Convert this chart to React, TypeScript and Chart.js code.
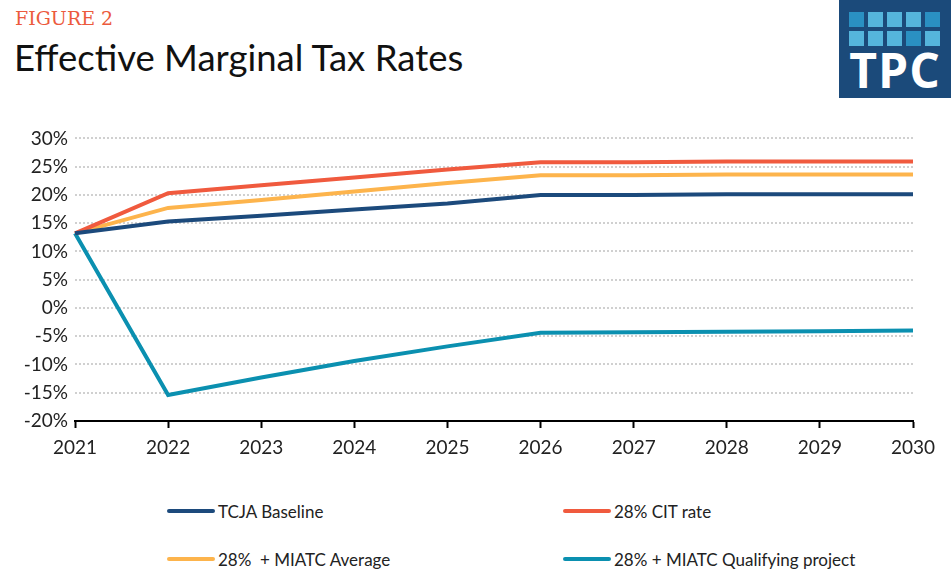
import React, { useEffect, useRef } from "react";
import { Chart, registerables } from "chart.js";

Chart.register(...registerables);

const years = ["2021", "2022", "2023", "2024", "2025", "2026", "2027", "2028", "2029", "2030"];
const tcjaBaseline = [13.2, 15.3, 16.3, 17.4, 18.5, 20.0, 20.0, 20.1, 20.1, 20.1];
const cit28 = [13.2, 20.3, 21.7, 23.1, 24.5, 25.8, 25.8, 25.9, 25.9, 25.9];
const miatcAverage = [13.2, 17.7, 19.1, 20.6, 22.1, 23.5, 23.5, 23.6, 23.6, 23.6];
const miatcQualifying = [13.2, -15.4, -12.3, -9.4, -6.8, -4.4, -4.3, -4.2, -4.1, -4.0];
const seriesNames = ["TCJA Baseline", "28% CIT rate", "28%  + MIATC Average", "28% + MIATC Qualifying project"];
const seriesColors = ["#1c4a7c", "#f05a3e", "#fdb44c", "#0b90b0"];

const FONT = "Lato, 'Noto Sans', sans-serif";

export default function App() {
  const canvasRef = useRef<HTMLCanvasElement | null>(null);

  useEffect(() => {
    document.body.style.margin = "0";
    const ctx = canvasRef.current;
    if (!ctx) return;
    const data = [tcjaBaseline, cit28, miatcAverage, miatcQualifying];
    const chart = new Chart(ctx, {
      type: "line",
      data: {
        labels: years,
        datasets: data.map((d, i) => ({
          label: seriesNames[i],
          data: d,
          borderColor: seriesColors[i],
          backgroundColor: seriesColors[i],
          borderWidth: 4,
          pointRadius: 0,
          tension: 0,
          fill: false,
        })),
      },
      options: {
        animation: false,
        responsive: false,
        maintainAspectRatio: false,
        layout: { padding: { top: 15, right: 38, left: 0, bottom: 0 } },
        plugins: { legend: { display: false }, tooltip: { enabled: false } },
        scales: {
          x: {
            offset: false,
            grid: {
              drawOnChartArea: false,
              drawTicks: true,
              tickLength: 7,
              tickWidth: 2,
              tickColor: "#000",
            },
            border: { display: true, color: "#000", width: 2 },
            ticks: {
              padding: 8,
              color: "#222",
              font: { family: FONT, size: 19 },
              maxRotation: 0,
              autoSkip: false,
            },
            afterFit: (scale: any) => {
              scale.height = 49;
            },
          },
          y: {
            min: -20,
            max: 30,
            grid: {
              drawTicks: false,
              color: "#d0d0d0",
              lineWidth: 2,
            },
            border: { display: false, dash: [2, 2] },
            ticks: {
              stepSize: 5,
              padding: 7,
              color: "#222",
              font: { family: FONT, size: 19 },
              callback: (v: any) => `${v}%`,
            },
            afterFit: (scale: any) => {
              scale.width = 75;
            },
          },
        },
      },
    });
    return () => chart.destroy();
  }, []);

  const logoTop = ["#2a90c2", "#55b5dc", "#55b5dc", "#55b5dc", "#2a90c2"];
  const logoBottom = ["#55b5dc", "#55b5dc", "#55b5dc", "#2a90c2", "#55b5dc"];

  const legendItem = (i: number, left: number, top: number) => (
    <div
      key={i}
      style={{ position: "absolute", left, top, height: 24, display: "flex", alignItems: "center" }}
    >
      <div style={{ width: 48, height: 4, borderRadius: 2, background: seriesColors[i], marginRight: 3 }} />
      <span style={{ fontFamily: FONT, fontSize: 17, color: "#222", whiteSpace: "pre" }}>{seriesNames[i]}</span>
    </div>
  );

  return (
    <div style={{ position: "absolute", left: 0, top: 0, width: 951, height: 586, background: "#fff", overflow: "hidden" }}>
      <div
        style={{
          position: "absolute",
          left: 15,
          top: 7,
          fontFamily: "'DejaVu Serif', serif",
          fontSize: 19,
          color: "#ec5a3d",
          letterSpacing: 0,
        }}
      >
        FIGURE 2
      </div>
      <div
        style={{
          position: "absolute",
          left: 14,
          top: 35,
          fontFamily: FONT,
          fontSize: 36.5,
          color: "#111",
        }}
      >
        Effective Marginal Tax Rates
      </div>
      <div style={{ position: "absolute", left: 839, top: 0, width: 112, height: 98, background: "#1b4a7a" }}>
        {logoTop.map((c, i) => (
          <div key={"t" + i} style={{ position: "absolute", left: 10 + i * 19, top: 12, width: 15, height: 15, background: c }} />
        ))}
        {logoBottom.map((c, i) => (
          <div key={"b" + i} style={{ position: "absolute", left: 10 + i * 19, top: 31, width: 15, height: 15, background: c }} />
        ))}
        <div
          style={{
            position: "absolute",
            left: 0,
            top: 45,
            width: 112,
            textAlign: "center",
            fontFamily: "'Open Sans', sans-serif",
            fontWeight: 700,
            fontSize: 48,
            color: "#fff",
            lineHeight: "50px",
            letterSpacing: 1,
          }}
        >
          TPC
        </div>
      </div>
      <canvas ref={canvasRef} width={951} height={350} style={{ position: "absolute", left: 0, top: 120, width: 951, height: 350 }} />
      {legendItem(0, 167, 499)}
      {legendItem(1, 563, 499)}
      {legendItem(2, 167, 547)}
      {legendItem(3, 563, 547)}
    </div>
  );
}
